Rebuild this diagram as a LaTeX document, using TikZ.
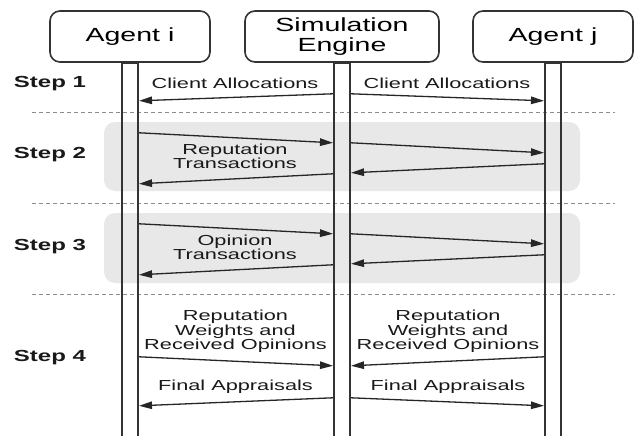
\documentclass[tikz,border=0pt]{standalone}
\usepackage{fontspec}
\setmainfont[FakeStretch=1.5]{Liberation Sans}
\usetikzlibrary{arrows.meta}

\tikzset{
  actor/.style={draw=black!80, line width=1.6pt, rounded corners=10pt,
    minimum height=51, align=center, inner sep=2pt,
    font=\fontsize{19}{20}\selectfont},
  lifeline/.style={draw=black!80, line width=1.6pt, minimum width=16.5,
    minimum height=382, inner sep=0pt, anchor=north},
  msg/.style={draw=black!85, line width=1.3pt,
    -{Triangle[length=13pt,width=7.5pt]}},
  msgtext/.style={align=center, text=black!90, inner sep=0pt,
    font=\fontsize{14.5}{13}\selectfont},
  steptext/.style={text=black!90, inner sep=0pt,
    font=\fontsize{16}{18}\selectfont\bfseries},
  phase/.style={fill=black!9, rounded corners=11pt},
  divider/.style={draw=black!45, line width=1pt, dash pattern=on 4pt off 3pt}
}

\begin{document}
\begin{tikzpicture}[x=1pt,y=-1pt]
\useasboundingbox (0,0) rectangle (635,436);

% shaded phases for steps 2 and 3
\fill[phase] (104,122) rectangle (580,191);
\fill[phase] (104,213) rectangle (580,283);

% step dividers
\draw[divider] (32,112.7) -- (615,112.7);
\draw[divider] (32,203.3) -- (615,203.3);
\draw[divider] (32,294.3) -- (615,294.3);

% participants
\node[actor, minimum width=160] (ai) at (130,36.5) {Agent i};
\node[actor, minimum width=194] (se) at (342,36.5) {Simulation\\Engine};
\node[actor, minimum width=160] (aj) at (553,36.5) {Agent j};

% lifelines
\node[lifeline] (li) at (ai.south) {};
\node[lifeline] (le) at (se.south) {};
\node[lifeline] (lj) at (aj.south) {};

% step labels
\node[steptext] (s1) at (50,84) {Step 1};
\node[steptext] (s2) at (50,155) {Step 2};
\node[steptext] (s3) at (50,247) {Step 3};
\node[steptext] (s4) at (50,358) {Step 4};

% step 1: client allocations
\draw[msg] ([yshift=-31pt]le.north west) -- ([yshift=-38pt]li.north east);
\draw[msg] ([yshift=-31pt]le.north east) -- ([yshift=-38pt]lj.north west);
\node[msgtext] (ca1) at (235,83) {Client Allocations};
\node[msgtext] (ca2) at (447,83) {Client Allocations};

% step 2: reputation transactions
\draw[msg] ([yshift=-70pt]li.north east) -- ([yshift=-80pt]le.north west);
\draw[msg] ([yshift=-80pt]le.north east) -- ([yshift=-90pt]lj.north west);
\draw[msg] ([yshift=-101pt]lj.north west) -- ([yshift=-110pt]le.north east);
\draw[msg] ([yshift=-111pt]le.north west) -- ([yshift=-121pt]li.north east);
\node[msgtext] (rt) at (235,156.5) {Reputation\\Transactions};

% step 3: opinion transactions
\draw[msg] ([yshift=-161pt]li.north east) -- ([yshift=-171pt]le.north west);
\draw[msg] ([yshift=-171pt]le.north east) -- ([yshift=-181pt]lj.north west);
\draw[msg] ([yshift=-192pt]lj.north west) -- ([yshift=-201pt]le.north east);
\draw[msg] ([yshift=-202pt]le.north west) -- ([yshift=-212pt]li.north east);
\node[msgtext] (ot) at (235,247.5) {Opinion\\Transactions};

% step 4: weights, opinions and final appraisals
\draw[msg] ([yshift=-294pt]li.north east) -- ([yshift=-303pt]le.north west);
\draw[msg] ([yshift=-294pt]lj.north west) -- ([yshift=-303pt]le.north east);
\node[msgtext, font=\fontsize{14.5}{14.5}\selectfont] (rw1) at (235.5,331.5)
  {Reputation\\Weights and\\Received Opinions};
\node[msgtext, font=\fontsize{14.5}{14.5}\selectfont] (rw2) at (448,331.5)
  {Reputation\\Weights and\\Received Opinions};
\draw[msg] ([yshift=-335pt]le.north west) -- ([yshift=-343pt]li.north east);
\draw[msg] ([yshift=-335pt]le.north east) -- ([yshift=-343pt]lj.north west);
\node[msgtext] (fa1) at (235.5,387) {Final Appraisals};
\node[msgtext] (fa2) at (448,387) {Final Appraisals};
\end{tikzpicture}
\end{document}
